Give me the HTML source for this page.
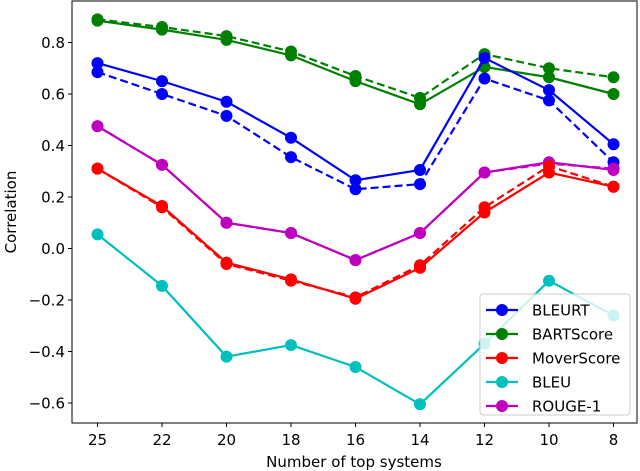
<!DOCTYPE html>
<html><head><meta charset="utf-8"><style>
html,body{margin:0;padding:0;background:#fff;}
svg{display:block;font-family:"DejaVu Sans","Liberation Sans",sans-serif;}
</style></head><body>
<svg id="chart" width="640" height="471">
<rect x="72" y="1" width="565" height="422" fill="#fff" stroke="#000" stroke-width="1"/>
<g id="ticks"></g>
<g id="series"></g>
<text x="354" y="467" font-size="15" text-anchor="middle">Number of top systems</text>
<text transform="translate(16,212) rotate(-90)" font-size="15" text-anchor="middle">Correlation</text>
<g id="legend"></g>
</svg>
<script>
const categories = ["25","22","20","18","16","14","12","10","8"];
const yTicks = [0.8,0.6,0.4,0.2,0.0,-0.2,-0.4,-0.6];
const seriesNames = ["BLEURT","BARTScore","MoverScore","BLEU","ROUGE-1"];
const seriesColors = ["#0000ff","#008000","#ff0000","#00bfbf","#bf00bf"];
const bleurtSolid = [0.72,0.65,0.57,0.43,0.265,0.305,0.74,0.615,0.405];
const bleurtDashed = [0.685,0.60,0.515,0.355,0.23,0.25,0.66,0.575,0.335];
const bartSolid = [0.885,0.85,0.81,0.75,0.65,0.56,0.705,0.665,0.60];
const bartDashed = [0.89,0.86,0.825,0.765,0.67,0.585,0.755,0.70,0.665];
const moverSolid = [0.31,0.165,-0.055,-0.12,-0.195,-0.075,0.14,0.295,0.24];
const moverDashed = [0.31,0.16,-0.06,-0.125,-0.19,-0.065,0.16,0.32,0.24];
const bleuSolid = [0.055,-0.145,-0.42,-0.375,-0.46,-0.605,-0.37,-0.125,-0.26];
const rougeSolid = [0.475,0.325,0.10,0.06,-0.045,0.06,0.295,0.335,0.305];
const rougeDashed = [0.475,0.325,0.10,0.06,-0.045,0.06,0.295,0.33,0.31];

const NS="http://www.w3.org/2000/svg";
function xS(i){return 97.5+i*64.5;}
function yS(v){return 248.5-v*257.5;}
function mk(tag,attrs,parent){const e=document.createElementNS(NS,tag);for(const k in attrs)e.setAttribute(k,attrs[k]);parent.appendChild(e);return e;}
const tg=document.getElementById('ticks');
categories.forEach((c,i)=>{
  const l=mk('line',{x1:xS(i),x2:xS(i),y1:423,y2:427,stroke:'#000'},tg);
  
  
  const t=mk('text',{x:xS(i),y:445,'font-size':15,'text-anchor':'middle'},tg);t.textContent=c;
  
  
});
yTicks.forEach(v=>{
  const l=mk('line',{x1:68,x2:72,y1:yS(v),y2:yS(v),stroke:'#000'},tg);
  
  
  const t=mk('text',{x:65,y:yS(v)+5.5,'font-size':15,'text-anchor':'end'},tg);t.textContent=(v<0?'\u2212':'')+Math.abs(v).toFixed(1);
  
  
});
const sg=document.getElementById('series');
function draw(vals,color,dashed,name){
  const g=mk('g',{},sg);
  
  
  const p=mk('polyline',{points:vals.map((v,i)=>xS(i)+','+yS(v)).join(' '),fill:'none',stroke:color,'stroke-width':2.2,'stroke-dasharray':dashed?'8,4':'none'},g);
  
  
  vals.forEach((v,i)=>{
    const c=mk('circle',{cx:xS(i),cy:yS(v),r:6,fill:color},g);
    
    
  });
}
draw(bartDashed,seriesColors[1],true,'bartscore-dashed');
draw(bartSolid,seriesColors[1],false,'bartscore-solid');
draw(bleurtDashed,seriesColors[0],true,'bleurt-dashed');
draw(bleurtSolid,seriesColors[0],false,'bleurt-solid');
draw(rougeDashed,seriesColors[4],true,'rouge1-dashed');
draw(rougeSolid,seriesColors[4],false,'rouge1-solid');
draw(moverDashed,seriesColors[2],true,'moverscore-dashed');
draw(moverSolid,seriesColors[2],false,'moverscore-solid');
draw(bleuSolid,seriesColors[3],false,'bleu-solid');
const lg=document.getElementById('legend');
const box=mk('rect',{x:480,y:294,width:150,height:121,rx:3,fill:'#fff','fill-opacity':0.8,stroke:'#ccc'},lg);


seriesNames.forEach((n,i)=>{
  const y=310+i*24;
  const g=mk('g',{},lg);
  
  
  mk('line',{x1:486,x2:518,y1:y,y2:y,stroke:seriesColors[i],'stroke-width':2.2},g);
  mk('circle',{cx:502,cy:y,r:6,fill:seriesColors[i]},g);
  const t=mk('text',{x:532,y:y+5.5,'font-size':15},g);t.textContent=n;
});
</script>
</body></html>
